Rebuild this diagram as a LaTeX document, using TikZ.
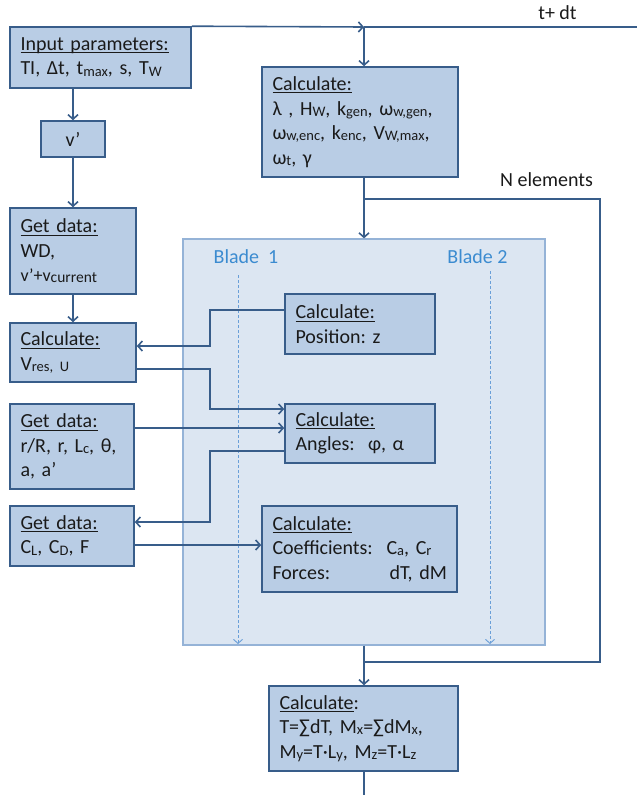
\documentclass[tikz,border=0pt]{standalone}
\usepackage{fontspec}
\setmainfont{Carlito}
\usetikzlibrary{arrows.meta}
\definecolor{bfill}{HTML}{B9CDE5}
\definecolor{bline}{HTML}{385D8A}
\definecolor{pfill}{HTML}{DCE6F2}
\definecolor{pline}{HTML}{95B3D7}
\definecolor{blab}{HTML}{3B8BD0}
\definecolor{dline}{HTML}{6A9FD8}
\definecolor{txt}{HTML}{1A1A1A}
\newcommand\ulx[1]{\leavevmode\setbox0\hbox{#1}\rlap{\rule[-2.8pt]{\wd0}{0.9pt}}\box0}
\newcommand\sbs[1]{\raisebox{-1.2pt}{\fontsize{14.5}{14.5}\selectfont #1}}
\newcommand\sbm[1]{\raisebox{-1pt}{\fontsize{15.5}{15.5}\selectfont #1}}
\newcommand\smallline{\fontsize{18}{20}\selectfont}
\begin{document}
\begin{tikzpicture}[x=1pt,y=-1pt,
  font=\fontsize{20}{24.5}\selectfont\frenchspacing,
  box/.style={draw=bline, fill=bfill, line width=1.6pt, inner xsep=10.5pt, inner ysep=0pt, align=left, text=txt},
  conn/.style={draw=bline, line width=1.6pt},
  arr/.style={conn, -{Straight Barb[length=4.5pt,width=10pt,line width=1.6pt]}},
  dsh/.style={draw=dline, line width=0.9pt, dash pattern=on 3pt off 2pt, -{Straight Barb[length=4pt,width=9pt,line width=0.9pt]}},
  lab/.style={text=txt, inner sep=0pt},
  blabel/.style={text=blab, inner sep=0pt}]
\useasboundingbox (0,0) rectangle (637,795);

% blade container
\node[draw=pline, fill=pfill, line width=1.2pt, minimum width=362pt, minimum height=406pt, inner sep=0pt] (blade) at (364,442) {};
\node[blabel] (b1) at (246,257) {Blade\ \ 1};
\node[blabel] (b2) at (477.5,257) {Blade 2};
\coordinate (d1t) at (238,275);
\coordinate (d1b) at (238,644);
\coordinate (d2t) at (490,271);
\coordinate (d2b) at (490,644);
\draw[dsh] (d1t) -- (d1b);
\draw[dsh] (d2t) -- (d2b);

% boxes
\node[box, minimum width=181pt, minimum height=61pt, text width=160pt] (inp) at (100.5,57.5)
  {\ulx{Input parameters:}\\TI, Δt, t\sbs{max}, s, T\sbs{W}};
\node[box, align=center, minimum width=64pt, minimum height=36pt, text width=43pt] (vp) at (73,139) {v’};
\node[box, minimum width=126pt, minimum height=86pt, text width=105pt] (gd1) at (73,251)
  {\ulx{Get data:}\\WD,\\{\smallline v’+v\sbm{current}}};
\node[box, minimum width=126pt, minimum height=59pt, text width=105pt] (cv) at (73,352.5)
  {\ulx{Calculate:}\\V\sbs{res, U}};
\node[box, minimum width=124pt, minimum height=85pt, text width=103pt] (gd2) at (72,446.5)
  {\ulx{Get data:}\\r/R, r, L\sbs{c}, θ,\\a, a’};
\node[box, minimum width=124pt, minimum height=60pt, text width=103pt] (gd3) at (72,536)
  {\ulx{Get data:}\\C\sbs{L}, C\sbs{D}, F};
\node[box, minimum width=196pt, minimum height=110pt, text width=175pt] (ctop) at (360,122)
  {\ulx{Calculate:}\\λ , H\sbs{W}, k\sbs{gen}, ω\sbs{w,gen},\\ω\sbs{w,enc}, k\sbs{enc}, V\sbs{W,max},\\ω\sbs{t}, γ};
\node[box, minimum width=150pt, minimum height=60pt, text width=129pt] (cpos) at (360,324)
  {\ulx{Calculate:}\\Position: z};
\node[box, minimum width=150pt, minimum height=59pt, text width=129pt] (cang) at (360,433.5)
  {\ulx{Calculate:}\\Angles:\ \ φ, α};
\node[box, minimum width=195pt, minimum height=86pt, text width=174pt] (ccoef) at (359.5,549)
  {\ulx{Calculate:}\\\mbox{\makebox[114pt][l]{Coefficients:}C\sbs{a}, C\sbs{r}}\\\mbox{\makebox[117pt][l]{Forces:}dT, dM}};
\node[box, minimum width=189pt, minimum height=85pt, text width=168pt] (cfin) at (363.5,728.5)
  {\ulx{Calculate}:\\T=∑dT, M\sbs{x}=∑dM\sbs{x},\\M\sbs{y}=T·L\sbs{y}, M\sbs{z}=T·L\sbs{z}};

% trunk
\coordinate (tr) at (364,27);
\coordinate (tend) at (637,27);
\coordinate (nsplit) at (364,199);
\coordinate (nr1) at (600,199);
\coordinate (nr2) at (600,662);
\coordinate (njoin) at (364,662);
\coordinate (bot) at (364,795);
\draw[arr] (inp.north east) -- (tr);
\draw[conn] (tr) -- (tend);
\node[lab] (tdt) at (557.5,13) {t+ dt};
\draw[arr] (tr) -- (ctop.north -| tr);
\draw[arr] (ctop.south -| tr) -- (blade.north -| tr);
\draw[conn] (nsplit) -- (nr1) -- (nr2) -- (njoin);
\node[lab] (nel) at (546.5,180) {N elements};
\draw[arr] (blade.south -| tr) -- (cfin.north -| tr);
\draw[conn] (cfin.south -| tr) -- (bot);

% left column
\draw[arr] (inp.south -| vp) -- (vp.north);
\draw[arr] (vp.south) -- (gd1.north);
\draw[arr] (gd1.south) -- (cv.north);

% cross connectors
\draw[arr] (cpos.west |- 0,310) -- (210,310) -- (210,346) -- (cv.east |- 0,346);
\draw[arr] (cv.east |- 0,369) -- (210,369) -- (210,409) -- (cang.west |- 0,409);
\draw[arr] (gd2.east |- 0,428) -- (cang.west |- 0,428);
\draw[arr] (cang.west |- 0,451) -- (210,451) -- (210,522) -- (gd3.east |- 0,522);
\draw[arr] (gd3.east |- 0,545) -- (ccoef.west |- 0,545);
\end{tikzpicture}
\end{document}
